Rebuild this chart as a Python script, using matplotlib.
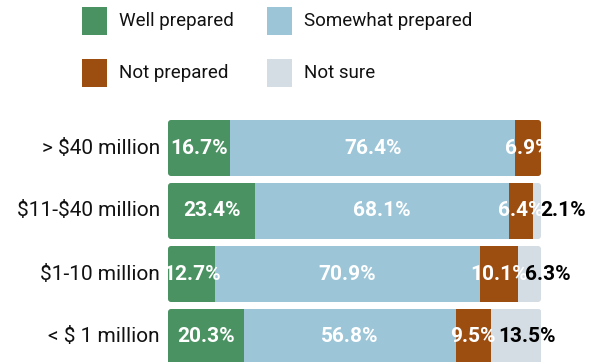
import numpy as np
import matplotlib
matplotlib.use("Agg")
import matplotlib.pyplot as plt
from matplotlib.patches import FancyBboxPatch, Rectangle

plt.rcParams['font.family'] = ['Roboto', 'DejaVu Sans']

categories = ['> $40 million', '$11-$40 million', '$1-10 million', '< $ 1 million']
series = ['Well prepared', 'Somewhat prepared', 'Not prepared', 'Not sure']
well = [16.7, 23.4, 12.7, 20.3]
somewhat = [76.4, 68.1, 70.9, 56.8]
notprep = [6.9, 6.4, 10.1, 9.5]
notsure = [0.0, 2.1, 6.3, 13.5]
colors = ['#4a9262', '#9cc5d8', '#9c4d10', '#d5dde4']

W, H = 605, 362
fig = plt.figure(figsize=(W / 100, H / 100), dpi=100)
ax = fig.add_axes([168 / W, 0, 373 / W, 1 - 120 / H])
ax.set_xlim(0, 100)
ax.set_ylim(3 + 25 / 63, -28 / 63)
ax.axis('off')

values = [well, somewhat, notprep, notsure]
bar_h = 56 / 63
# rounded outline per row, used as clip path for the stacked segments
px_x = 100 / 373
px_y = 1 / 63
for i, cat in enumerate(categories):
    total = sum(v[i] for v in values)
    clip = FancyBboxPatch((0, i - bar_h / 2), total, bar_h,
                          boxstyle='round,pad=0,rounding_size=%f' % (3 * px_x),
                          mutation_aspect=px_y / px_x,
                          facecolor='none', edgecolor='none')
    ax.add_patch(clip)
    left = 0
    for k, v in enumerate(values):
        if v[i] <= 0:
            continue
        bars = ax.barh(i, v[i], left=left, height=bar_h, color=colors[k], linewidth=0)
        for b in bars:
            b.set_clip_path(clip)
        label = f'{v[i]:.1f}%'
        if k < 3:
            # keep the last white label inside the bar end
            x = min(left + v[i] / 2, total - 3.5)
            ax.text(x, i, label, ha='center', va='center',
                    color='white', fontsize=15, fontweight='bold')
        else:
            ax.text(left + 2.0, i, label, ha='left', va='center',
                    color='black', fontsize=15, fontweight='bold', clip_on=False)
        left += v[i]
    fig.text(160 / W, 1 - (148 + 63 * i) / H, cat, ha='right', va='center',
             fontsize=15, color='#111111', parse_math=False)

# legend, two columns by two rows
sq_w, sq_h = 25, 28
for k, name in enumerate(series):
    col, row = k % 2, k // 2
    x0 = [82, 267][col]
    yc = [21, 73][row]
    fig.patches.append(Rectangle((x0 / W, 1 - (yc + sq_h / 2) / H), sq_w / W, sq_h / H,
                                 transform=fig.transFigure, facecolor=colors[k],
                                 edgecolor='none'))
    fig.text((x0 + 37) / W, 1 - yc / H, name, ha='left', va='center',
             fontsize=13.5, color='#111111')

fig.savefig('out.png', dpi=100)
